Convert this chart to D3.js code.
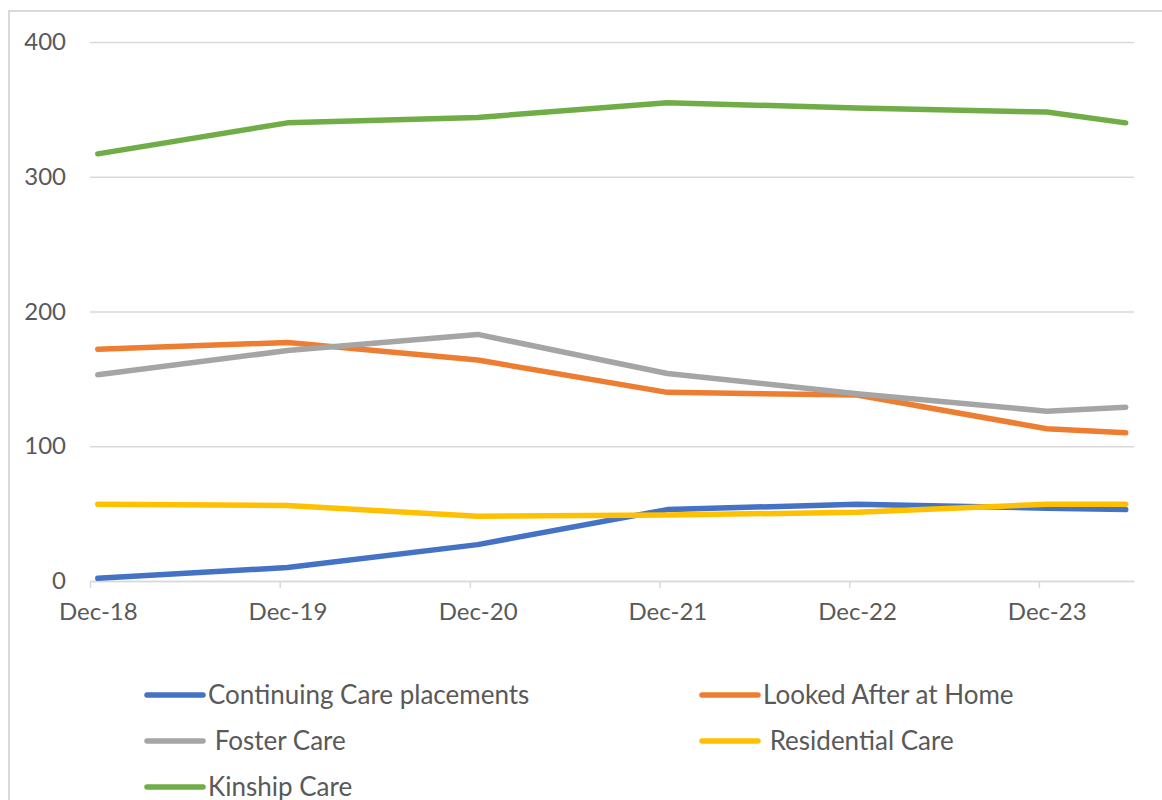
<!DOCTYPE html>
<html>
<head>
<meta charset="utf-8">
<script src="https://cdn.jsdelivr.net/npm/d3@7"></script>
<style>
  body { margin: 0; background: #fff; }
  text { font-family: Lato, "Liberation Sans", sans-serif; fill: #595959; }
</style>
</head>
<body>
<svg id="chart"></svg>
<script>
// months of each reading (year, month index)
const periods = [[2018, 11], [2019, 11], [2020, 11], [2021, 11], [2022, 11], [2023, 11], [2024, 4]];
const seriesNames = ["Continuing Care placements", "Looked After at Home", " Foster Care", " Residential Care", "Kinship Care"];
const continuingCare = [2, 10, 27, 53, 57, 54, 53];
const lookedAfterHome = [172, 177, 164, 140, 138, 113, 110];
const fosterCare = [153, 171, 183, 154, 139, 126, 129];
const residentialCare = [57, 56, 48, 49, 51, 57, 57];
const kinshipCare = [317, 340, 344, 355, 351, 348, 340];
const yTicks = [0, 100, 200, 300, 400];
const colors = ["#4472C4", "#ED7D31", "#A5A5A5", "#FFC000", "#70AD47"];

const w = 1162, h = 800;
const svg = d3.select("#chart").attr("width", w).attr("height", h);

// outer frame
svg.append("rect")
   .attr("x", 9).attr("y", 11)
   .attr("width", w + 20).attr("height", h + 20)
   .attr("fill", "none")
   .attr("stroke", "#d9d9d9")
   .attr("stroke-width", 2);

const plotLeft = 90, plotRight = 1134, plotTop = 42, plotBottom = 581;

const x = d3.scaleTime()
            .domain([new Date(2018, 11, 1), new Date(2024, 5, 1)])
            .range([plotLeft, plotRight]);
const y = d3.scaleLinear().domain([0, 400]).range([plotBottom, plotTop]);

// points sit in the middle of their month
const mid = p => new Date(p[0], p[1], 16);
const dates = periods.map(mid);

// gridlines + y labels
const yAxis = svg.append("g")
   .attr("transform", "translate(" + plotLeft + ",0)")
   .call(d3.axisLeft(y).tickValues(yTicks).tickSize(-(plotRight - plotLeft)).tickPadding(24));
yAxis.select(".domain").remove();
yAxis.selectAll("line").attr("stroke", "#d9d9d9").attr("stroke-width", 1.5);
yAxis.selectAll("text").style("font-size", "24px").attr("fill", "#595959");

// x axis ticks (month starts)
const xTicks = svg.append("g")
   .attr("transform", "translate(0," + plotBottom + ")")
   .call(d3.axisBottom(x)
           .tickValues(periods.slice(0, 6).map(p => new Date(p[0], p[1], 1)))
           .tickSize(7).tickSizeOuter(0).tickFormat(""));
xTicks.selectAll("path, line").attr("stroke", "#d9d9d9").attr("stroke-width", 1.5);

// x labels centred on the month
const xLabels = svg.append("g")
   .attr("transform", "translate(0," + plotBottom + ")")
   .call(d3.axisBottom(x)
           .tickValues(dates.slice(0, 6))
           .tickSize(0).tickPadding(22)
           .tickFormat(d3.timeFormat("%b-%y")));
xLabels.select(".domain").remove();
xLabels.selectAll("text").style("font-size", "24px").attr("fill", "#595959");

const allSeries = [continuingCare, lookedAfterHome, fosterCare, residentialCare, kinshipCare];

const line = d3.line()
               .x((d, i) => x(dates[i]))
               .y(d => y(d));

svg.append("g")
   .selectAll("path")
   .data(allSeries)
   .enter()
   .append("path")
   .attr("d", d => line(d))
   .attr("fill", "none")
   .attr("stroke", (d, i) => colors[i])
   .attr("stroke-width", 5.5)
   .attr("stroke-linejoin", "round")
   .attr("stroke-linecap", "round");

// legend, two columns
const legend = svg.append("g");
const item = legend.selectAll("g")
   .data(seriesNames)
   .enter()
   .append("g")
   .attr("transform", (d, i) => "translate(" + (i % 2 === 0 ? 145 : 700) + "," + (695 + Math.floor(i / 2) * 46) + ")");

item.append("line")
    .attr("x1", 2).attr("x2", 58)
    .attr("stroke", (d, i) => colors[i])
    .attr("stroke-width", 5.5)
    .attr("stroke-linecap", "round");

item.append("text")
    .attr("x", 63)
    .attr("dy", "0.35em")
    .style("font-size", "26px")
    .style("white-space", "pre")
    .text(d => d);
</script>
</body>
</html>
